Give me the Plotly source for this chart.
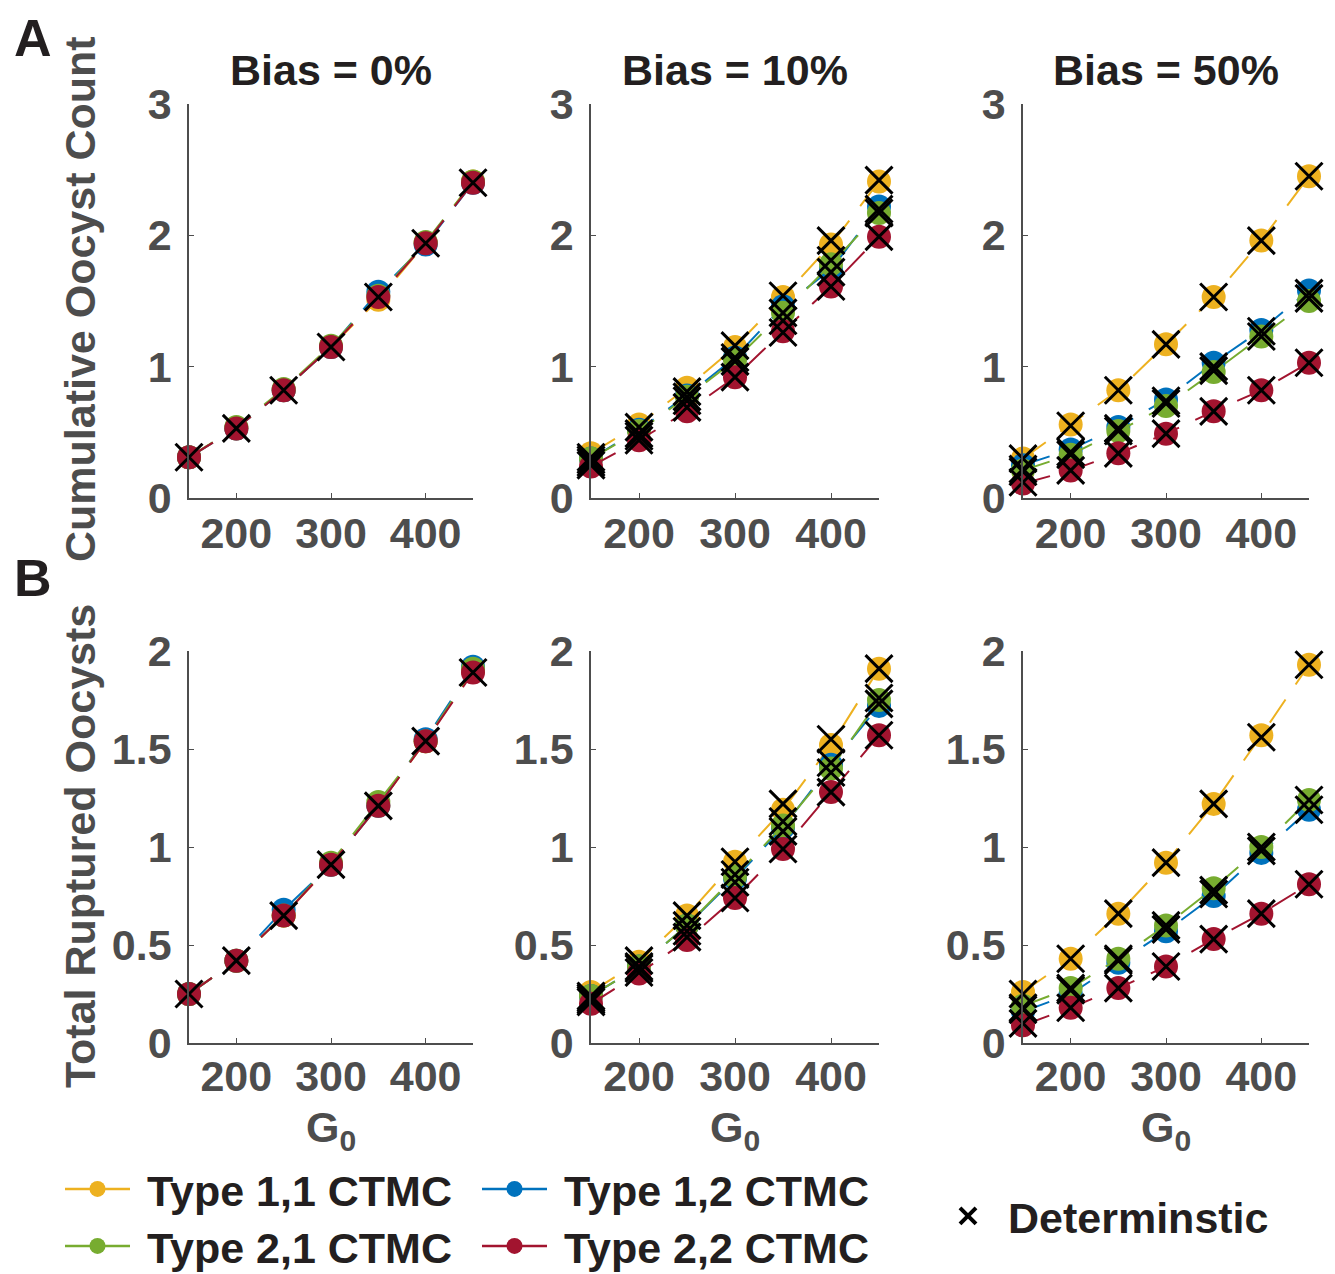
import plotly.graph_objects as go
from plotly.subplots import make_subplots

# ---------------- data ----------------
G0 = [150, 200, 250, 300, 350, 400, 450]
TYPE_NAMES = ["Type 1,1 CTMC", "Type 1,2 CTMC", "Type 2,1 CTMC", "Type 2,2 CTMC"]
DET_NAME = "Determinstic"
BIAS_TITLES = ["Bias = 0%", "Bias = 10%", "Bias = 50%"]
X_TICKS = [200, 300, 400]
Y_TICKS_A = [0, 1, 2, 3]
Y_TICKS_B = [0, 0.5, 1, 1.5, 2]

# Row A: cumulative oocyst count (CTMC means, order: T11, T12, T21, T22)
count_b0_t11 = [0.31, 0.53, 0.82, 1.15, 1.51, 1.94, 2.41]
count_b0_t12 = [0.31, 0.53, 0.82, 1.15, 1.57, 1.93, 2.40]
count_b0_t21 = [0.31, 0.54, 0.83, 1.16, 1.54, 1.95, 2.41]
count_b0_t22 = [0.31, 0.53, 0.82, 1.15, 1.53, 1.94, 2.40]
count_b0_det = [0.31, 0.53, 0.82, 1.15, 1.53, 1.94, 2.40]

count_b10_t11 = [0.34, 0.56, 0.84, 1.15, 1.53, 1.93, 2.41]
count_b10_t12 = [0.30, 0.52, 0.78, 1.07, 1.46, 1.74, 2.22]
count_b10_t21 = [0.30, 0.51, 0.77, 1.05, 1.41, 1.78, 2.17]
count_b10_t22 = [0.24, 0.44, 0.66, 0.92, 1.27, 1.61, 1.99]
count_b10_det_t11 = [0.31, 0.54, 0.81, 1.16, 1.54, 1.96, 2.42]
count_b10_det_t12 = [0.29, 0.49, 0.77, 1.07, 1.41, 1.81, 2.20]
count_b10_det_t21 = [0.27, 0.47, 0.74, 1.04, 1.35, 1.72, 2.17]
count_b10_det_t22 = [0.25, 0.44, 0.69, 0.92, 1.26, 1.61, 1.99]

count_b50_t11 = [0.30, 0.56, 0.82, 1.17, 1.53, 1.96, 2.45]
count_b50_t12 = [0.25, 0.37, 0.54, 0.75, 1.03, 1.28, 1.58]
count_b50_t21 = [0.21, 0.33, 0.51, 0.70, 0.96, 1.23, 1.50]
count_b50_t22 = [0.11, 0.21, 0.34, 0.49, 0.66, 0.82, 1.03]
count_b50_det_t11 = [0.30, 0.55, 0.82, 1.17, 1.53, 1.96, 2.45]
count_b50_det_t12 = [0.22, 0.35, 0.53, 0.74, 1.00, 1.27, 1.56]
count_b50_det_t21 = [0.20, 0.33, 0.51, 0.72, 0.97, 1.23, 1.52]
count_b50_det_t22 = [0.12, 0.21, 0.34, 0.49, 0.66, 0.82, 1.03]

# Row B: total ruptured oocysts
rupt_b0_t11 = [0.25, 0.42, 0.65, 0.91, 1.21, 1.54, 1.90]
rupt_b0_t12 = [0.25, 0.42, 0.68, 0.91, 1.21, 1.55, 1.92]
rupt_b0_t21 = [0.25, 0.42, 0.65, 0.92, 1.23, 1.54, 1.91]
rupt_b0_t22 = [0.25, 0.42, 0.65, 0.91, 1.21, 1.54, 1.89]
rupt_b0_det = [0.25, 0.42, 0.65, 0.91, 1.21, 1.54, 1.89]

rupt_b10_t11 = [0.26, 0.415, 0.65, 0.925, 1.19, 1.52, 1.91]
rupt_b10_t12 = [0.24, 0.39, 0.60, 0.84, 1.10, 1.42, 1.72]
rupt_b10_t21 = [0.24, 0.39, 0.60, 0.85, 1.11, 1.40, 1.75]
rupt_b10_t22 = [0.20, 0.355, 0.525, 0.74, 0.99, 1.28, 1.57]
rupt_b10_det_t11 = [0.24, 0.42, 0.65, 0.925, 1.22, 1.55, 1.91]
rupt_b10_det_t12 = [0.23, 0.39, 0.60, 0.86, 1.13, 1.43, 1.73]
rupt_b10_det_t21 = [0.22, 0.38, 0.57, 0.82, 1.08, 1.38, 1.76]
rupt_b10_det_t22 = [0.21, 0.36, 0.54, 0.74, 0.99, 1.28, 1.57]

rupt_b50_t11 = [0.26, 0.43, 0.66, 0.92, 1.22, 1.57, 1.93]
rupt_b50_t12 = [0.16, 0.25, 0.41, 0.57, 0.75, 0.97, 1.19]
rupt_b50_t21 = [0.19, 0.28, 0.43, 0.60, 0.79, 1.00, 1.24]
rupt_b50_t22 = [0.09, 0.18, 0.28, 0.39, 0.53, 0.66, 0.81]
rupt_b50_det_t11 = [0.25, 0.43, 0.66, 0.92, 1.22, 1.56, 1.93]
rupt_b50_det_t12 = [0.17, 0.27, 0.42, 0.58, 0.76, 0.98, 1.19]
rupt_b50_det_t21 = [0.18, 0.28, 0.43, 0.60, 0.78, 1.00, 1.24]
rupt_b50_det_t22 = [0.10, 0.18, 0.28, 0.39, 0.53, 0.66, 0.81]

# ---------------- styling ----------------
COLORS = ["#EDB120", "#0072BD", "#77AC30", "#A2142F"]
AXIS_GRAY = "#4d4d4d"
TEXT_DARK = "#231F20"
FONT = "Liberation Sans"
FS = 43
W, H = 1335, 1274

panels = {
    (1, 1): ([count_b0_t11, count_b0_t12, count_b0_t21, count_b0_t22], [count_b0_det]),
    (1, 2): ([count_b10_t11, count_b10_t12, count_b10_t21, count_b10_t22],
             [count_b10_det_t11, count_b10_det_t12, count_b10_det_t21, count_b10_det_t22]),
    (1, 3): ([count_b50_t11, count_b50_t12, count_b50_t21, count_b50_t22],
             [count_b50_det_t11, count_b50_det_t12, count_b50_det_t21, count_b50_det_t22]),
    (2, 1): ([rupt_b0_t11, rupt_b0_t12, rupt_b0_t21, rupt_b0_t22], [rupt_b0_det]),
    (2, 2): ([rupt_b10_t11, rupt_b10_t12, rupt_b10_t21, rupt_b10_t22],
             [rupt_b10_det_t11, rupt_b10_det_t12, rupt_b10_det_t21, rupt_b10_det_t22]),
    (2, 3): ([rupt_b50_t11, rupt_b50_t12, rupt_b50_t21, rupt_b50_t22],
             [rupt_b50_det_t11, rupt_b50_det_t12, rupt_b50_det_t21, rupt_b50_det_t22]),
}

fig = make_subplots(rows=2, cols=3)

for (r, c), (ctmc, dets) in panels.items():
    for i, ys in enumerate(ctmc):
        fig.add_trace(go.Scatter(
            x=G0, y=ys, mode="lines+markers", showlegend=False, cliponaxis=False,
            line=dict(color=COLORS[i], width=2, dash="28px,18px"),
            marker=dict(symbol="circle", size=24, color=COLORS[i]),
            hoverinfo="skip"), row=r, col=c)
    for ys in dets:
        fig.add_trace(go.Scatter(
            x=G0, y=ys, mode="markers", showlegend=False, cliponaxis=False,
            marker=dict(symbol="x-thin", size=27, color="black",
                        line=dict(color="black", width=3)),
            hoverinfo="skip"), row=r, col=c)

# legend-only traces
NBSP = "\u00a0"
for i, name in enumerate(TYPE_NAMES):
    fig.add_trace(go.Scatter(
        x=[None], y=[None], mode="lines+markers", name=NBSP + name,
        legend=["legend", "legend", "legend2", "legend2"][i],
        line=dict(color=COLORS[i], width=2.5),
        marker=dict(symbol="circle", size=18, color=COLORS[i])), row=1, col=1)
fig.add_trace(go.Scatter(
    x=[None], y=[None], mode="markers", name=DET_NAME, legend="legend3",
    marker=dict(symbol="x-thin", size=22, color="black", line=dict(color="black", width=4))),
    row=1, col=1)

# axis domains (pixel-derived)
col_px = [(189, 473), (591, 879), (1023, 1309)]
row_px = [(104, 498), (651, 1043)]
for r in (1, 2):
    for c in (1, 2, 3):
        idx = (r - 1) * 3 + c
        xa = "xaxis" if idx == 1 else f"xaxis{idx}"
        ya = "yaxis" if idx == 1 else f"yaxis{idx}"
        x0, x1 = col_px[c - 1]
        y0, y1 = row_px[r - 1]
        fig.layout[xa].update(
            domain=[x0 / W, x1 / W], range=[150, 450], tickvals=X_TICKS,
            showline=True, linecolor=AXIS_GRAY, linewidth=1.5, ticks="inside",
            ticklen=5, tickcolor=AXIS_GRAY, showgrid=False, zeroline=False,
            tickfont=dict(family=FONT, size=FS, color=AXIS_GRAY, weight="bold"),
            ticklabelstandoff=-3 if r == 1 else -5)
        fig.layout[ya].update(
            domain=[1 - y1 / H, 1 - y0 / H],
            range=[0, 3] if r == 1 else [0, 2],
            tickvals=Y_TICKS_A if r == 1 else Y_TICKS_B,
            showline=True, linecolor=AXIS_GRAY, linewidth=1.5, ticks="inside",
            ticklen=5, tickcolor=AXIS_GRAY, showgrid=False, zeroline=False,
            tickfont=dict(family=FONT, size=FS, color=AXIS_GRAY, weight="bold"),
            ticklabelstandoff=7)

annotations = []
for c in range(3):
    xc = (col_px[c][0] + col_px[c][1]) / 2 / W
    annotations.append(dict(text=BIAS_TITLES[c], x=xc, y=1 - 70 / H, xref="paper", yref="paper",
                            showarrow=False, xanchor="center", yanchor="middle",
                            font=dict(family=FONT, size=FS, color=TEXT_DARK, weight="bold")))
    annotations.append(dict(text="G<sub>0</sub>", x=xc, y=1 - 1130 / H, xref="paper", yref="paper",
                            showarrow=False, xanchor="center", yanchor="middle",
                            font=dict(family=FONT, size=FS, color=AXIS_GRAY, weight="bold")))
annotations.append(dict(text="Cumulative Oocyst Count", x=80 / W, y=1 - 299 / H, xref="paper",
                        yref="paper", showarrow=False, textangle=-90, xanchor="center",
                        yanchor="middle",
                        font=dict(family=FONT, size=FS, color=AXIS_GRAY, weight="bold")))
annotations.append(dict(text="Total Ruptured Oocysts", x=80 / W, y=1 - 846 / H, xref="paper",
                        yref="paper", showarrow=False, textangle=-90, xanchor="center",
                        yanchor="middle",
                        font=dict(family=FONT, size=FS, color=AXIS_GRAY, weight="bold")))
for lab, ypx in (("A", 38), ("B", 578)):
    annotations.append(dict(text=lab, x=33 / W, y=1 - ypx / H, xref="paper", yref="paper",
                            showarrow=False, xanchor="center", yanchor="middle",
                            font=dict(family=FONT, size=52, color=TEXT_DARK, weight="bold")))

legend_font = dict(family=FONT, size=FS, color=TEXT_DARK, weight="bold")
fig.update_layout(
    width=W, height=H, margin=dict(l=0, r=0, t=0, b=0, autoexpand=False),
    paper_bgcolor="white", plot_bgcolor="white",
    annotations=annotations,
    legend=dict(orientation="h", x=60 / W, y=1 - 1189 / H, xanchor="left", yanchor="middle",
                font=legend_font, entrywidth=337, itemwidth=65, bgcolor="rgba(0,0,0,0)",
                tracegroupgap=0),
    legend2=dict(orientation="h", x=60 / W, y=1 - 1246 / H, xanchor="left", yanchor="middle",
                 font=legend_font, entrywidth=337, itemwidth=65, bgcolor="rgba(0,0,0,0)",
                 tracegroupgap=0),
    legend3=dict(orientation="h", x=928 / W, y=1 - 1216 / H, xanchor="left", yanchor="middle",
                 font=legend_font, itemwidth=70, bgcolor="rgba(0,0,0,0)"),
)

fig.write_html("out.html")
